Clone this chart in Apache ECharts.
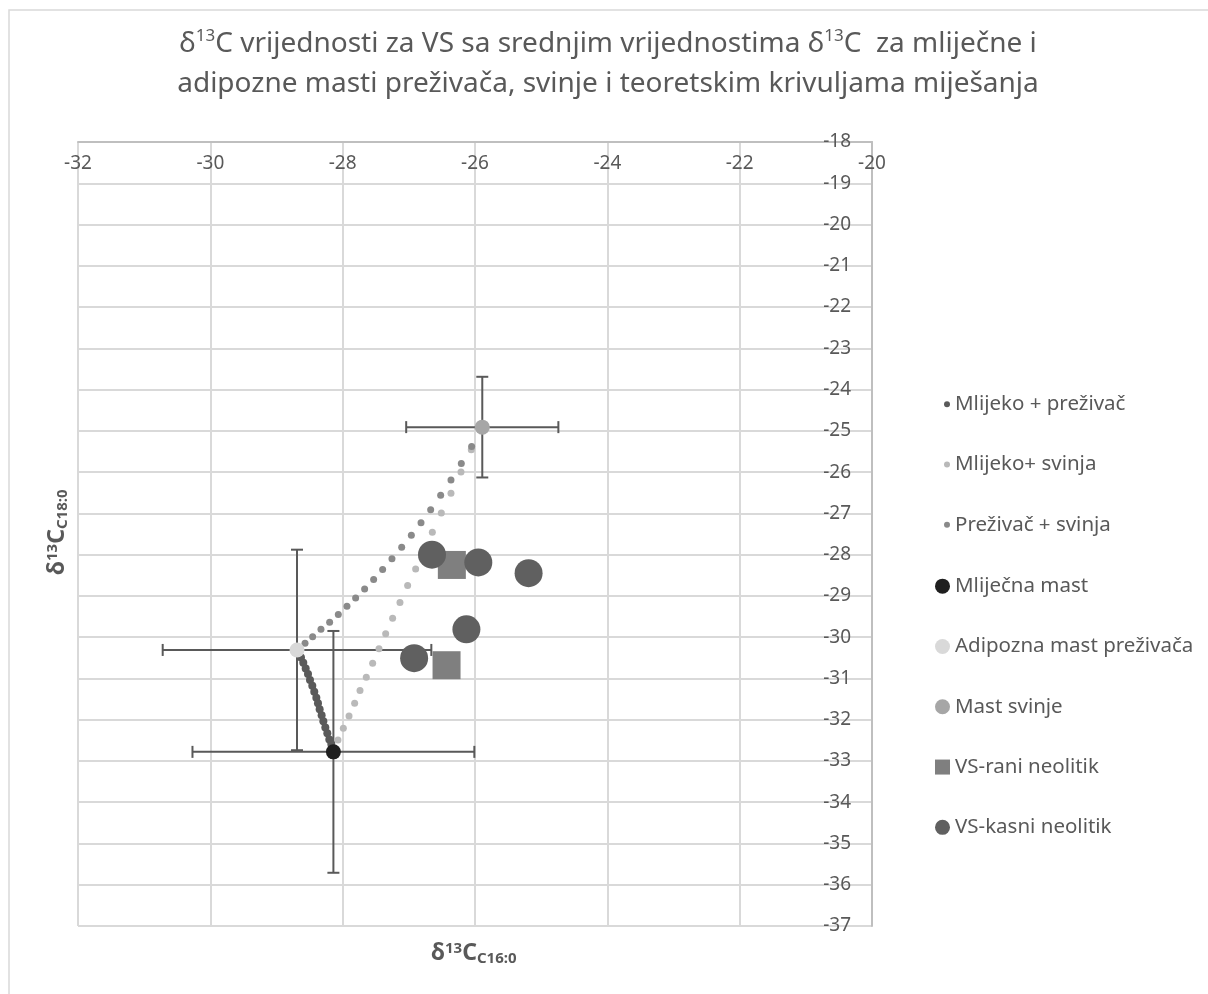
<!DOCTYPE html>
<html>
<head>
<meta charset="utf-8">
<script src="https://cdn.jsdelivr.net/npm/echarts@6/dist/echarts.min.js"></script>
<style>html,body{margin:0;padding:0;background:#fff}#c{width:1208px;height:994px}</style>
</head>
<body>
<div id="c"></div>
<script>
// ---- data ----
const xTicks = [-32, -30, -28, -26, -24, -22, -20];
const yTicks = [-37, -36, -35, -34, -33, -32, -31, -30, -29, -28, -27, -26, -25, -24, -23, -22, -21, -20, -19, -18];

const mlijekoPrezivac = [
  [-28.66,-30.40],[-28.630,-30.49],[-28.595,-30.62],[-28.559,-30.76],[-28.524,-30.89],
  [-28.494,-31.04],[-28.459,-31.18],[-28.429,-31.32],[-28.398,-31.47],[-28.373,-31.60],
  [-28.348,-31.75],[-28.318,-31.89],[-28.292,-32.04],[-28.262,-32.19],[-28.232,-32.33],
  [-28.202,-32.48],[-28.172,-32.59],[-28.160,-32.70]
];
const mlijekoSvinja = [
  [-28.071,-32.49],[-27.990,-32.21],[-27.904,-31.91],[-27.819,-31.60],[-27.738,-31.29],
  [-27.643,-30.97],[-27.547,-30.63],[-27.451,-30.28],[-27.350,-29.92],[-27.245,-29.54],
  [-27.134,-29.16],[-27.018,-28.75],[-26.897,-28.35],[-26.771,-27.90],[-26.645,-27.46],
  [-26.509,-26.99],[-26.363,-26.51],[-26.212,-26.00],[-26.056,-25.46]
];
const prezivacSvinja = [
  [-28.569,-30.15],[-28.454,-29.99],[-28.328,-29.81],[-28.197,-29.64],[-28.066,-29.45],
  [-27.935,-29.25],[-27.804,-29.05],[-27.668,-28.83],[-27.532,-28.60],[-27.396,-28.36],
  [-27.255,-28.10],[-27.108,-27.82],[-26.962,-27.53],[-26.816,-27.23],[-26.670,-26.91],
  [-26.519,-26.56],[-26.363,-26.19],[-26.207,-25.79],[-26.051,-25.38]
];
const mlijecnaMast = [[-28.14, -32.78]];
const adipoznaMast = [[-28.69, -30.31]];
const mastSvinje = [[-25.89, -24.91]];
const vsRani = [[-26.35, -28.25], [-26.43, -30.68]];
const vsKasni = [[-26.65, -28.0], [-25.95, -28.19], [-25.19, -28.45], [-26.13, -29.81], [-26.92, -30.51]];
// error bars: [x, y, errX, errY]
const errorBars = [
  [-28.14, -32.78, 2.13, 2.93],
  [-28.69, -30.31, 2.03, 2.43],
  [-25.89, -24.91, 1.15, 1.22]
];

const txt = '#595959';
const FF = 'Noto Sans';
const chart = echarts.init(document.getElementById('c'), null, {renderer: 'canvas'});

const titleRich = {
  n: {fontSize: 28, fontWeight: 'normal', color: txt, fontFamily: FF, lineHeight: 40},
  s: {fontSize: 17, fontWeight: 'normal', color: txt, fontFamily: FF, lineHeight: 40, verticalAlign: 'top', padding: [4, 0, 0, 0]}
};
const nameRich = {
  b: {fontSize: 23, fontWeight: 'bold', fill: txt, fontFamily: FF},
  sp: {fontSize: 15, fontWeight: 'bold', fill: txt, fontFamily: FF, verticalAlign: 'top'},
  sb: {fontSize: 15, fontWeight: 'bold', fill: txt, fontFamily: FF, verticalAlign: 'bottom', padding: [10, 0, 0, 0]}
};
const option = {
  backgroundColor: '#fff',
  animation: false,
  textStyle: {fontFamily: FF},
  title: {
    left: 603, top: 19, textAlign: 'center',
    text: '{n|δ}{s|13}{n|C vrijednosti za VS sa srednjim vrijednostima δ}{s|13}{n|C  za mliječne i}\n{n|adipozne masti preživača, svinje i teoretskim krivuljama miješanja}',
    textStyle: {fontWeight: 'normal', rich: titleRich}
  },
  grid: {left: 78, right: 336, top: 142, bottom: 68, containLabel: false},
  xAxis: {
    type: 'value', position: 'top', min: -32, max: -20, interval: 2,
    axisLine: {show: true, lineStyle: {color: '#bfbfbf', width: 2}},
    axisTick: {show: false},
    axisLabel: {inside: true, margin: 12, color: txt, fontSize: 19, fontFamily: FF,
      formatter: v => xTicks.includes(v) ? String(v) : ''},
    splitLine: {show: true, lineStyle: {color: '#d9d9d9', width: 2}}
  },
  yAxis: {
    type: 'value', position: 'right', min: -37, max: -18, interval: 1,
    axisLine: {show: true, lineStyle: {color: '#bfbfbf', width: 2}},
    axisTick: {show: false},
    axisLabel: {inside: true, margin: 21, color: txt, fontSize: 19, fontFamily: FF,
      formatter: v => yTicks.includes(v) ? String(v) : ''},
    splitLine: {show: true, lineStyle: {color: '#d9d9d9', width: 2}}
  },
  legend: [
    {
      orient: 'vertical', left: 939, top: 387, itemWidth: 6, itemHeight: 6, itemGap: 36,
      data: [
        {name: 'Mlijeko + preživač', icon: 'circle'},
        {name: 'Mlijeko+ svinja', icon: 'circle'},
        {name: 'Preživač + svinja', icon: 'circle'}
      ],
      textStyle: {color: txt, fontSize: 20.5, fontFamily: FF, lineHeight: 24.3}
    },
    {
      orient: 'vertical', left: 930, top: 569, itemWidth: 15, itemHeight: 15, itemGap: 36,
      data: [
        {name: 'Mliječna mast', icon: 'circle'},
        {name: 'Adipozna mast preživača', icon: 'circle'},
        {name: 'Mast svinje', icon: 'circle'},
        {name: 'VS-rani neolitik', icon: 'rect'},
        {name: 'VS-kasni neolitik', icon: 'circle'}
      ],
      textStyle: {color: txt, fontSize: 20.5, fontFamily: FF, lineHeight: 24.3}
    }
  ],
  series: [
    {
      name: 'errbars', type: 'custom', z: 1, silent: true,
      data: errorBars,
      renderItem: function (params, api) {
        const x = api.value(0), y = api.value(1), ex = api.value(2), ey = api.value(3);
        const l = api.coord([x - ex, y]), r = api.coord([x + ex, y]);
        const t = api.coord([x, y + ey]), b = api.coord([x, y - ey]);
        const cap = 6;
        const st = {stroke: '#595959', lineWidth: 2};
        const line = (x1, y1, x2, y2) => ({type: 'line', shape: {x1, y1, x2, y2}, style: st});
        return {type: 'group', children: [
          line(l[0], l[1], r[0], r[1]),
          line(l[0], l[1] - cap, l[0], l[1] + cap),
          line(r[0], r[1] - cap, r[0], r[1] + cap),
          line(t[0], t[1], b[0], b[1]),
          line(t[0] - cap, t[1], t[0] + cap, t[1]),
          line(b[0] - cap, b[1], b[0] + cap, b[1])
        ]};
      }
    },
    {name: 'Mlijeko + preživač', type: 'scatter', z: 2, data: mlijekoPrezivac, symbol: 'circle', symbolSize: 8, itemStyle: {color: '#5a5a5a', opacity: 1}},
    {name: 'Mlijeko+ svinja', type: 'scatter', z: 2, data: mlijekoSvinja, symbol: 'circle', symbolSize: 7, itemStyle: {color: '#b9b9b9', opacity: 1}},
    {name: 'Preživač + svinja', type: 'scatter', z: 2, data: prezivacSvinja, symbol: 'circle', symbolSize: 7, itemStyle: {color: '#8a8a8a', opacity: 1}},
    {name: 'Mliječna mast', type: 'scatter', z: 3, data: mlijecnaMast, symbol: 'circle', symbolSize: 15, itemStyle: {color: '#1f1f1f', opacity: 1}},
    {name: 'Adipozna mast preživača', type: 'scatter', z: 3, data: adipoznaMast, symbol: 'circle', symbolSize: 15, itemStyle: {color: '#d9d9d9', opacity: 1}},
    {name: 'Mast svinje', type: 'scatter', z: 3, data: mastSvinje, symbol: 'circle', symbolSize: 15, itemStyle: {color: '#a6a6a6', opacity: 1}},
    {name: 'VS-rani neolitik', type: 'scatter', z: 4, data: vsRani, symbol: 'rect', symbolSize: 28, itemStyle: {color: '#7f7f7f', opacity: 1}},
    {name: 'VS-kasni neolitik', type: 'scatter', z: 4, data: vsKasni, symbol: 'circle', symbolSize: 28, itemStyle: {color: '#606060', opacity: 1}}
  ],
  graphic: [
    {type: 'rect', z: -10, silent: true, shape: {x: 9, y: 10, width: 1300, height: 1100}, style: {fill: 'none', stroke: '#d9d9d9', lineWidth: 1.5}},
    {
      type: 'text', x: 431, y: 941, silent: true,
      style: {text: '{b|δ}{sp|13}{b|C}{sb|C16:0}', rich: nameRich}
    },
    {
      type: 'text', x: 45, y: 575, rotation: Math.PI / 2, silent: true,
      style: {text: '{b|δ}{sp|13}{b|C}{sb|C18:0}', rich: nameRich}
    }
  ]
};
chart.setOption(option);
</script>
</body>
</html>
